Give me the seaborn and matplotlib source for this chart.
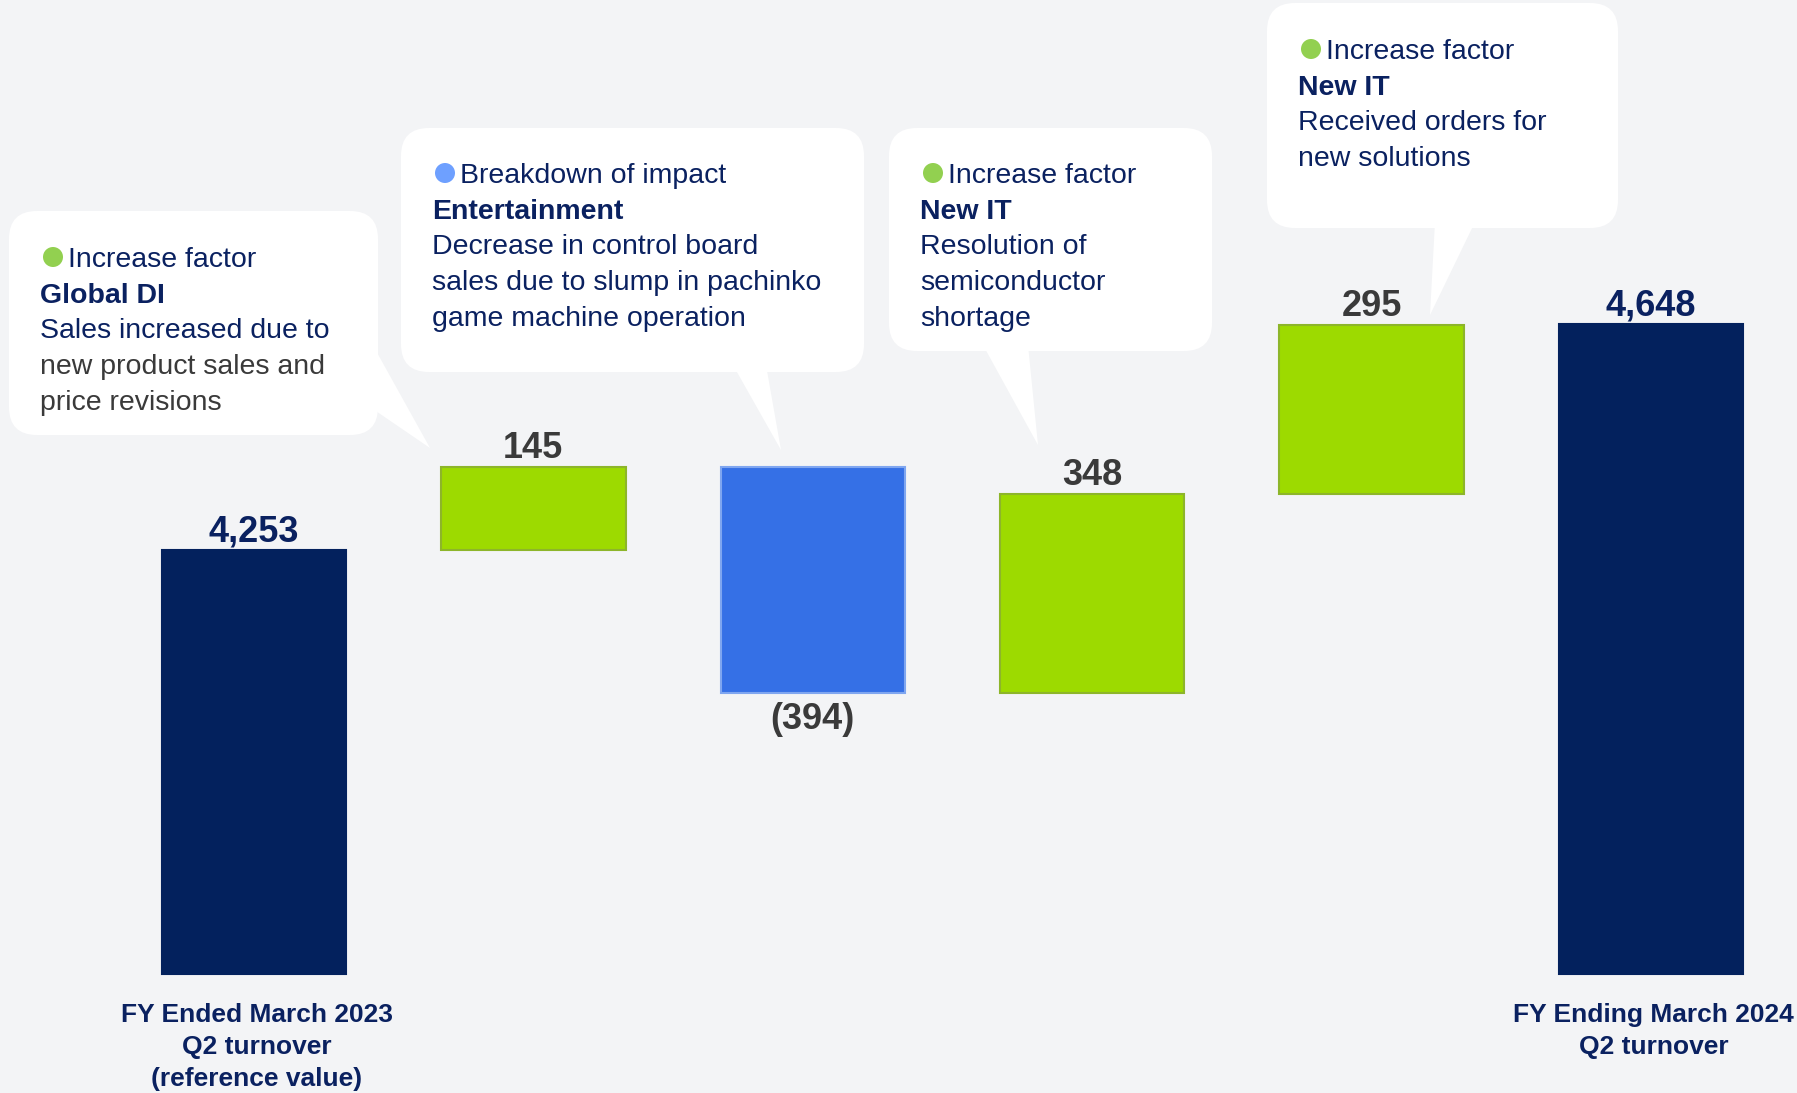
import numpy as np
import pandas as pd
import matplotlib
matplotlib.use("Agg")
import matplotlib.pyplot as plt
import matplotlib.transforms as mtransforms
from matplotlib.patches import FancyBboxPatch, Polygon, Circle
from matplotlib import font_manager
import seaborn as sns

# ---------------- data ----------------
categories = ["FY2023 Q2", "Global DI", "Entertainment", "New IT (semiconductor)",
              "New IT (solutions)", "FY2024 Q2"]
changes = [4253, 145, -394, 348, 295, 4648]
kinds = ["total", "inc", "dec", "inc", "inc", "total"]
value_labels = ["4,253", "145", "(394)", "348", "295", "4,648"]
x_labels = [["FY Ended March 2023", "Q2 turnover", "(reference value)"],
            [], [], [], [],
            ["FY Ending March 2024", "Q2 turnover"]]

callout_titles = ["Increase factor", "Breakdown of impact", "Increase factor", "Increase factor"]
callout_segments = ["Global DI", "Entertainment", "New IT", "New IT"]
callout_bodies = [["Sales increased due to", "new product sales and", "price revisions"],
                  ["Decrease in control board", "sales due to slump in pachinko",
                   "game machine operation"],
                  ["Resolution of", "semiconductor", "shortage"],
                  ["Received orders for", "new solutions"]]
callout_kinds = ["inc", "dec", "inc", "inc"]

# ---------------- style ----------------
W, H = 1797, 1093
BG = "#F3F4F6"
NAVY_BAR = "#03215D"
GREEN = "#9DDA00"
GREEN_EDGE = "#8DB52A"
BLUE = "#3570E6"
BLUE_EDGE = "#7FA6F0"
NAVY_TXT = "#0A2160"
GRAY_TXT = "#3A3A3A"
BULLET = {"inc": "#92D050", "dec": "#6EA0FF"}
bar_color = {"total": NAVY_BAR, "inc": GREEN, "dec": BLUE}
edge_color = {"total": NAVY_BAR, "inc": GREEN_EDGE, "dec": BLUE_EDGE}

sns.set_theme(style="white")
plt.rcParams["font.family"] = ["Liberation Sans", "DejaVu Sans"]
names = {f.name for f in font_manager.fontManager.ttflist}
if "Liberation Sans Narrow" in names:
    num_family, num_size = ["Liberation Sans Narrow", "Liberation Sans"], 28
else:
    num_family, num_size = ["Liberation Sans"], 26

# waterfall geometry
floor = 3512
bottoms, tops = [], []
running = 0
for v, k in zip(changes, kinds):
    if k == "total":
        bottoms.append(floor); tops.append(v); running = v
    else:
        b, t = sorted([running, running + v])
        bottoms.append(b); tops.append(t); running += v
spans = [t - b for b, t in zip(bottoms, tops)]

df = pd.DataFrame({"category": categories, "span": spans})

fig = plt.figure(figsize=(W / 100, H / 100), dpi=100, facecolor=BG)
ax = fig.add_axes([0, 0, 1, 1])
ax.set_facecolor(BG)
sns.barplot(data=df, x="category", y="span", hue="category", order=categories,
            hue_order=categories, palette=[bar_color[k] for k in kinds],
            saturation=1, width=0.66, errorbar=None, legend=False, ax=ax)
for p, b, k in zip(ax.patches, bottoms, kinds):
    p.set_y(b)
    p.set_edgecolor(edge_color[k])
    p.set_linewidth(1.5)
ax.set_xlim(-0.909, 5.523)
ax.set_ylim(3304, 5215)
ax.axis("off")

# value labels
for i, (lab, k) in enumerate(zip(value_labels, kinds)):
    col = NAVY_TXT if k == "total" else GRAY_TXT
    if k == "dec":
        ax.annotate(lab, (i, bottoms[i]), xytext=(0, -26.5), textcoords="offset points",
                    ha="center", va="baseline", fontsize=num_size, fontweight="bold",
                    color=col, family=num_family)
    else:
        ax.annotate(lab, (i, tops[i]), xytext=(0, 6.5), textcoords="offset points",
                    ha="center", va="baseline", fontsize=num_size, fontweight="bold",
                    color=col, family=num_family)

# overlay in pixel coordinates
ov = fig.add_axes([0, 0, 1, 1])
ov.set_xlim(0, W)
ov.set_ylim(H, 0)
ov.patch.set_alpha(0)
ov.axis("off")

# category labels
blend = mtransforms.blended_transform_factory(ax.transData, ov.transData)
for i, lines in enumerate(x_labels):
    for j, line in enumerate(lines):
        ov.text(i + 0.01, 1022 + 32 * j, line, transform=blend, ha="center", va="baseline",
                fontsize=19, fontweight="bold", color=NAVY_TXT)

# callouts: box (x0, y0, x1, y1), pointer triangle, text anchor
boxes = [(9, 211, 378, 435), (401, 128, 864, 372), (889, 128, 1212, 351), (1267, 3, 1618, 228)]
pointers = [[(370, 340), (430, 448), (370, 407)],
            [(733, 365), (781, 450), (766, 365)],
            [(983, 345), (1038, 445), (1028, 345)],
            [(1435, 222), (1430, 315), (1475, 222)]]
text_anchor = [(40, 267), (432, 183), (920, 183), (1298, 59)]
body_colors = [[NAVY_TXT, GRAY_TXT, GRAY_TXT], [NAVY_TXT] * 3, [NAVY_TXT] * 3, [NAVY_TXT] * 2]
LS = 35.7
FS = 20.5
for bi in range(4):
    x0, y0, x1, y1 = boxes[bi]
    ov.add_patch(FancyBboxPatch((x0, y0), x1 - x0, y1 - y0,
                                boxstyle="round,pad=0,rounding_size=28",
                                fc="white", ec="none", zorder=2))
    ov.add_patch(Polygon(pointers[bi], closed=True, fc="white", ec="none", zorder=2))
    tx, ty = text_anchor[bi]
    ov.add_patch(Circle((tx + 13, ty - 10), 10, fc=BULLET[callout_kinds[bi]], ec="none", zorder=3))
    ov.text(tx + 28, ty, callout_titles[bi], ha="left", va="baseline", fontsize=FS,
            color=NAVY_TXT, zorder=4)
    ov.text(tx, ty + LS, callout_segments[bi], ha="left", va="baseline", fontsize=FS,
            fontweight="bold", color=NAVY_TXT, zorder=4)
    for j, line in enumerate(callout_bodies[bi]):
        ov.text(tx, ty + LS * (j + 2), line, ha="left", va="baseline", fontsize=FS,
                color=body_colors[bi][j], zorder=4)

fig.savefig("out.png", dpi=100, facecolor=BG)
